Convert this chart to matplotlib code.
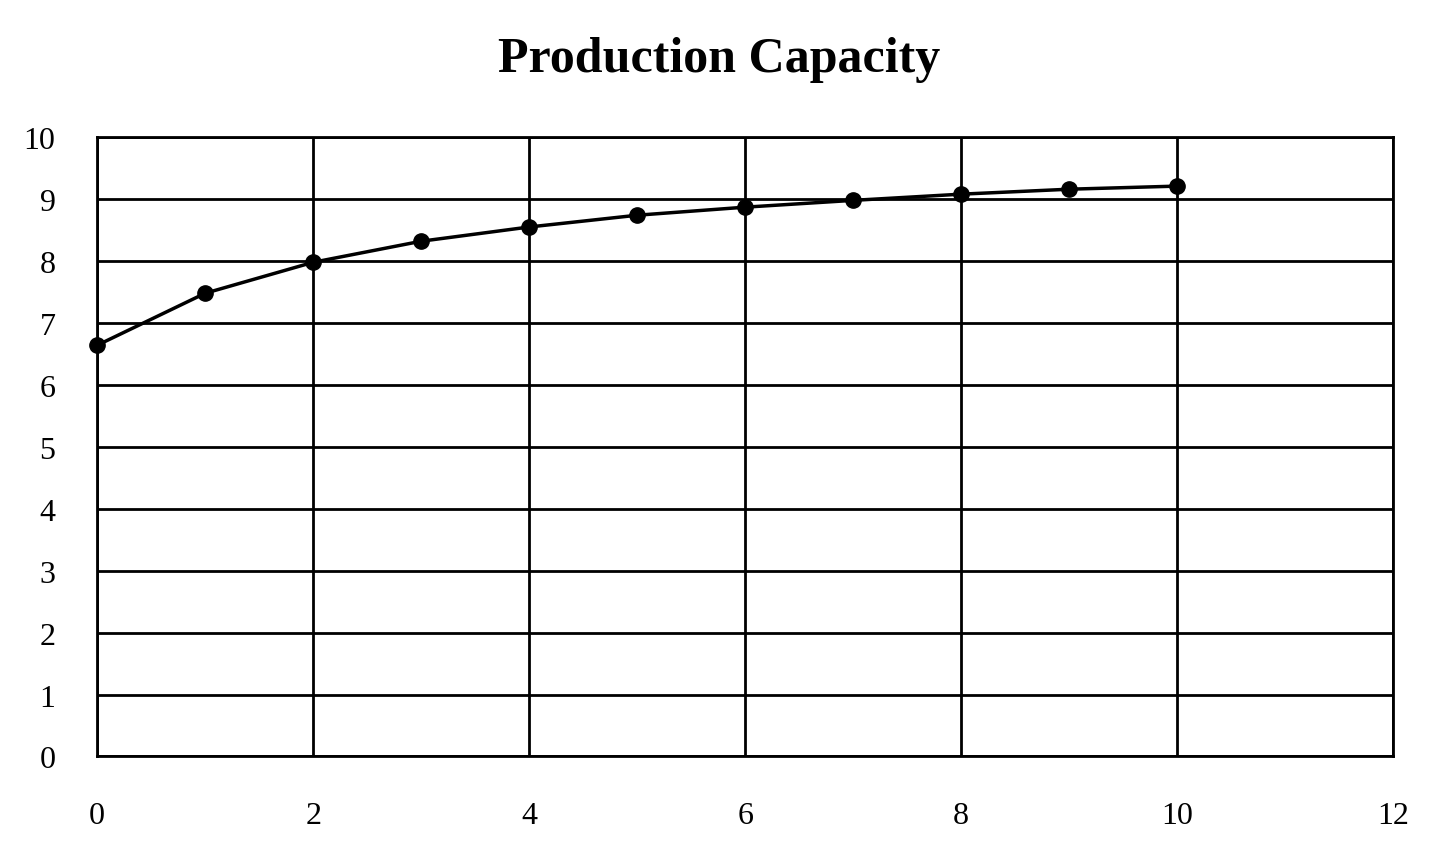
import matplotlib
matplotlib.use("Agg")
import matplotlib.pyplot as plt

years = [0, 1, 2, 3, 4, 5, 6, 7, 8, 9, 10]
capacity = [6.64, 7.48, 7.98, 8.32, 8.55, 8.74, 8.87, 8.98, 9.08, 9.16, 9.21]

plt.rcParams["font.family"] = ["Liberation Serif", "DejaVu Serif"]

fig, ax = plt.subplots(figsize=(14.29, 8.53), dpi=100)
fig.subplots_adjust(left=0.068, right=0.975, top=0.838, bottom=0.112)

ax.plot(years, capacity, color="black", lw=2.5, marker="o", ms=11,
        zorder=3, clip_on=False)

ax.set_xlim(0, 12)
ax.set_ylim(0, 10)
ax.set_xticks(range(0, 13, 2))
ax.set_yticks(range(0, 11))
ax.grid(True, color="black", lw=2)
for s in ax.spines.values():
    s.set_color("black")
    s.set_linewidth(2)
ax.tick_params(length=0, labelsize=23)
ax.tick_params(axis="x", pad=32)
ax.tick_params(axis="y", pad=30)
ax.set_title("Production Capacity", fontsize=36, fontweight="semibold",
             pad=48, x=0.48)

fig.savefig("out.png", dpi=100)
